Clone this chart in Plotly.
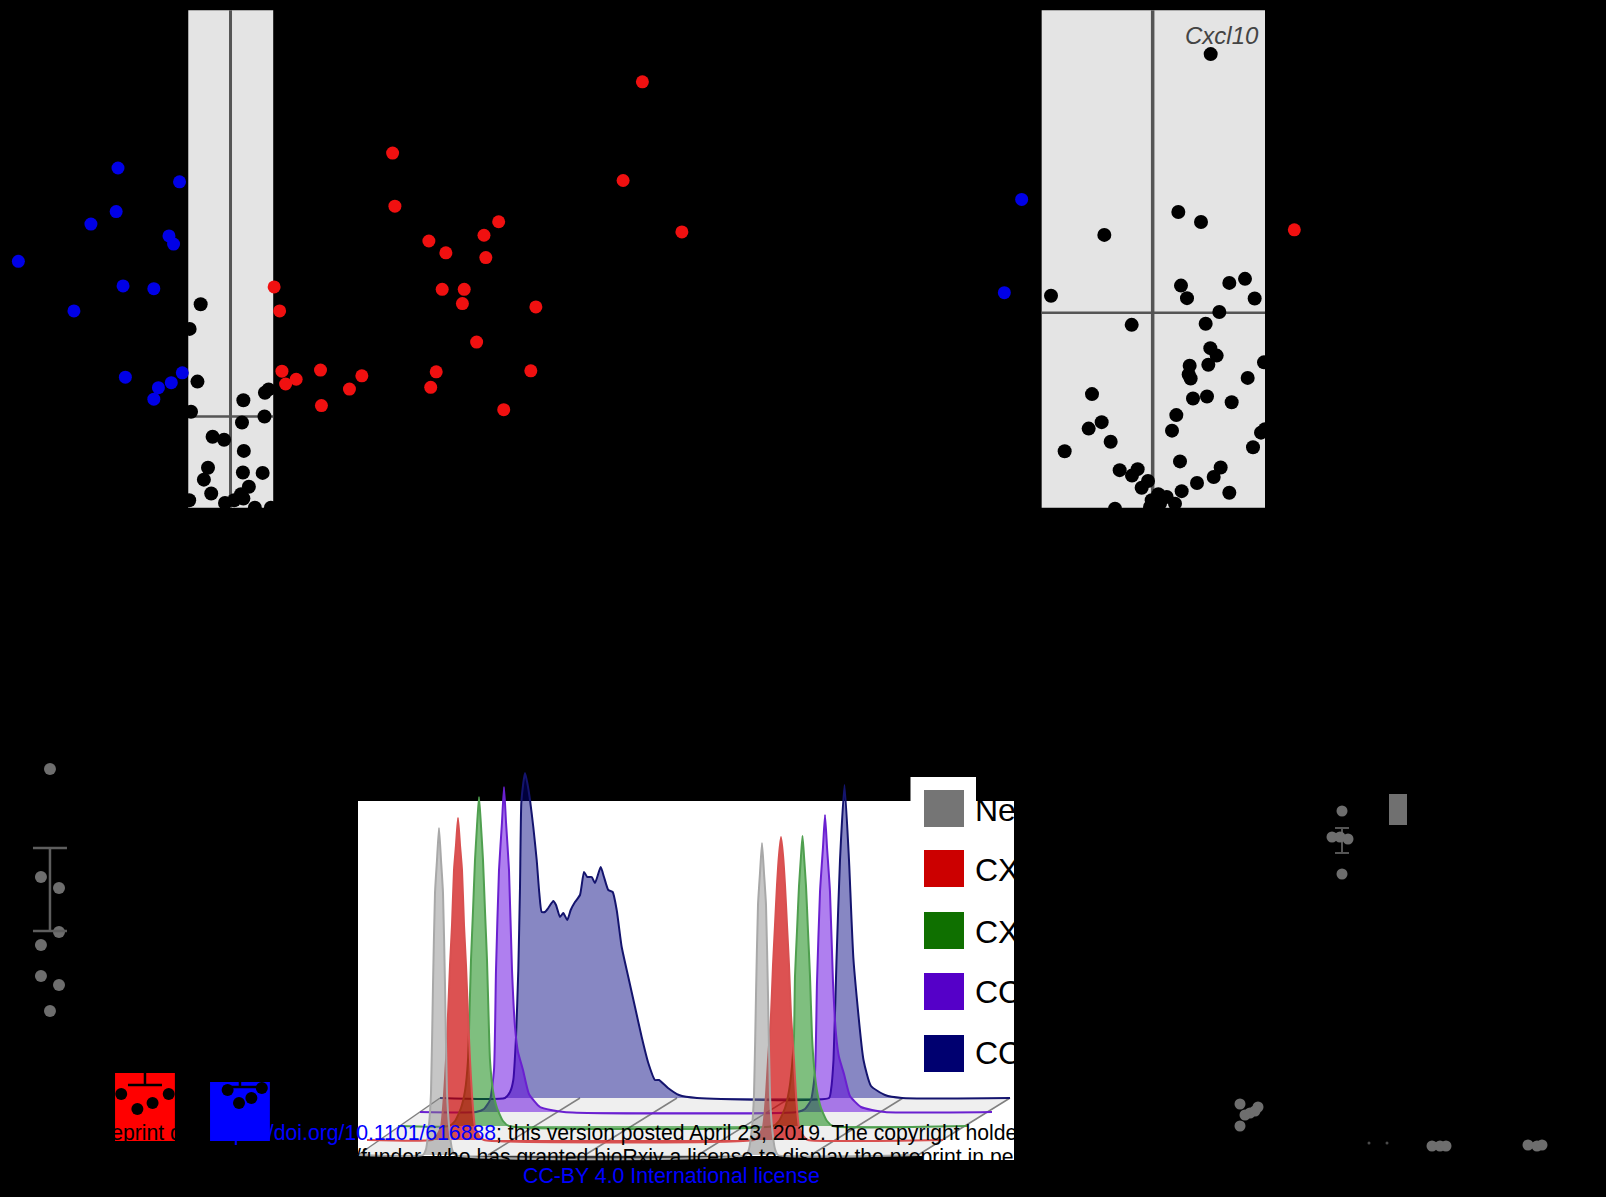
import plotly.graph_objects as go

# ---- top-left volcano (arbitrary plot units)
left_blue_x = [-2.45,-1.11,-2.49,-3.04,-1.34,-1.24,-4.62,-2.34,-1.67,-3.41,-1.05,-2.29,-1.29,-1.57,-1.67]
left_blue_y = [10.05,9.64,8.76,8.39,8.04,7.80,7.29,6.56,6.48,5.82,3.99,3.86,3.70,3.55,3.21]
left_red_x = [8.97,3.53,8.55,3.58,5.84,9.83,5.52,4.32,4.69,5.56,0.95,4.61,5.09,5.05,1.07,6.65,5.36,1.12,1.96,4.48,6.54,2.86,1.43,1.20,2.59,4.36,1.98,5.95]
left_red_y = [12.60,10.49,9.68,8.92,8.46,8.16,8.06,7.89,7.54,7.40,6.53,6.46,6.46,6.04,5.82,5.94,4.90,4.04,4.07,4.02,4.05,3.90,3.80,3.66,3.51,3.56,3.02,2.90]
left_ns_x = [-0.65,-0.89,-0.72,0.83,0.75,0.28,-0.86,0.74,0.25,-0.39,-0.14,0.29,-0.49,0.27,0.70,-0.58,0.40,-0.42,0.23,0.28,0.08,-0.12,-0.90,0.88,0.53]
left_ns_y = [6.02,5.29,3.73,3.50,3.40,3.18,2.84,2.70,2.52,2.10,2.01,1.68,1.18,1.04,1.03,0.83,0.62,0.42,0.40,0.27,0.22,0.14,0.22,0.0,0.0]
left_fc_cut = [-0.92, 0.93]
p_cut_left = 2.70
plot_top = 14.72

# ---- top-right volcano
right_blue_x = [-3.93,-4.45]
right_blue_y = [9.12,6.36]
right_red_x = [4.25]
right_red_y = [8.22]
right_ns_x = [1.74,0.77,1.45,-1.45,0.85,2.30,2.77,-3.05,1.03,3.06,2.00,-0.63,1.59,1.73,1.92,1.67,1.11,3.34,1.08,1.14,2.85,-1.82,1.21,1.63,2.37,0.71,-1.53,-1.92,0.58,3.25,3.37,-1.26,-2.64,3.01,0.82,-0.99,-0.45,-0.62,2.04,1.83,1.33,-0.14,-0.33,0.87,2.30,-1.13,0.17,-0.03,0.42,0.67,0.22,-0.08]
right_ns_y = [13.42,8.75,8.45,8.07,6.57,6.65,6.77,6.27,6.20,6.19,5.79,5.41,5.44,4.72,4.50,4.23,4.20,4.30,3.94,3.82,3.84,3.36,3.23,3.29,3.12,2.74,2.53,2.34,2.28,2.22,2.32,1.95,1.67,1.79,1.37,1.11,1.14,0.95,1.19,0.91,0.73,0.79,0.59,0.49,0.44,-0.03,0.40,0.22,0.32,0.12,0.12,0.02]
right_fc_cut = [-3.33, 3.37]
p_cut_right = 5.77
gene_label = "Cxcl10"

# ---- bottom-left bars and dots
ctrl_x = [0.0,-0.095,0.095,0.095,-0.095,-0.095,0.095,0.0]
ctrl_y = [37.2,26.4,25.3,20.9,19.6,16.5,15.6,13.0]
ctrl_mean = [25.15]
ctrl_err = [4.15]
bar_cats = [1, 2]
bar_vals = [6.8, 5.9]
bar_err = [1.2, 0.5]
bar_colors = ["#ff0000", "#0000ff"]
bar_dot_x = [0.75,1.25,0.92,1.08,1.87,2.23,2.12,1.99]
bar_dot_y = [4.7,4.7,3.2,3.8,5.1,5.3,4.3,3.8]

# ---- bottom-right dots
br_a_x = [1.42,1.32,1.40,1.48,1.42]
br_a_y = [33.9,31.3,31.3,31.1,27.6]
br_a_mean = [30.95]
br_a_err = [1.25]
br_bar_x = [1.98]
br_bar_base = [32.5]
br_bar_h = [3.1]
br_b_x = [0.40,0.58,0.50,0.55,0.45,0.40]
br_b_y = [4.6,4.3,3.7,3.9,3.5,2.4]
br_c_x = [2.32,2.40,2.46,3.28,3.37,3.42]
br_c_y = [0.4,0.4,0.4,0.5,0.4,0.5]
br_speck_x = [1.69,1.87]
br_speck_y = [0.7,0.7]

# ---- stacked histograms: channel, height above the layer's baseline
hist_names = ["Negative", "CXCL9", "CXCL10", "CCL19", "CCL21"]
hist_colors = ["#757575", "#cc0000", "#0f7000", "#5500c8", "#000070"]
grey_x = [18,83,86,89,91,93,95,97,99,101,103,105,107,109,112,115,406,409,412,414,416,418,420,422,424,426,428,430,432,435,438,578]
grey_h = [0,0,6,30,62,170,262,295,327,295,262,170,62,30,6,0,0,6,28,60,160,250,282,312,282,250,160,60,28,6,0,0]
red_x = [27,92,96,101,104,106,108,110,112,114,116,118,120,122,124,126,128,130,132,135,140,144,414,418,423,426,428,431,433,435,437,439,441,443,445,447,449,451,454,456,459,464,468,603]
red_h = [0,0,3,13,45,80,125,175,215,270,295,322,295,270,215,175,125,80,45,13,3,0,0,3,13,45,80,125,175,215,255,285,303,285,255,215,175,125,80,45,13,3,0,0]
green_x = [58,109,115,121,125,128,129,131,133,135,137,139,141,143,145,147,149,150,153,157,163,169,433,439,445,449,452,454,455,457,459,461,462.5,464,466,468,470,472,474,477,481,487,493,628]
green_h = [0,0,5,18,35,66,95,166,215,266,300,329,300,266,215,166,95,66,35,18,5,0,0,5,18,35,60,90,150,195,240,270,290,270,240,195,150,90,60,35,18,5,0,0]
purple_x = [80,136,144,150,154,156,159,162,164,166,169,172,175,178,183,189,200,224,457,465,471,475,477,480,483,485,487,490,493,496,499,504,510,521,545,652]
purple_h = [0,0,3,12,42,142,242,290,325,290,242,142,85,60,42,18,5,0,0,3,12,40,130,220,265,297,265,220,130,78,55,38,16,5,0,0]
navy_x = [100,165,170,173.3,176,178.3,180,181.3,183.3,185,187.3,190,193.3,196.7,199.3,201.7,205,208.3,213.3,216,220,223.3,227.3,230.7,235,240,244,247.3,251.7,255,260.7,264,268.3,272.7,276.7,281.7,288.3,295,301.7,308.3,315,319,328,339,357,489,491,493.5,496.5,500,504.5,509,513.5,523.5,531,545,562,670]
navy_h = [0,0,6,18,61,128,211,295,315,325,315,298,271,238,205,186,186,190,197,193,181,185,178,188,196,203,226,221,221,215,231,221,208,206,188,151,121,91,61,35,18,18,10,3,0,0,8,38,138,238,313,238,138,38,12,3,0,0]
floor_back_x = [100,240,337,450,563,670]
floor_front_x = [18,148,245,358,471,578]

W, H = 1606, 1197
def dom_x(a, b): return [a / W, b / W]
def dom_y(top, bottom): return [1 - bottom / H, 1 - top / H]
def plain(dom, rng, anchor):
    return dict(domain=dom, range=rng, visible=False, fixedrange=True, anchor=anchor)

fig = go.Figure()
def dots(x, y, color, size, ax, ay, opacity=1):
    fig.add_trace(go.Scatter(x=x, y=y, mode="markers", xaxis=ax, yaxis=ay, showlegend=False,
                             marker=dict(color=color, size=size, opacity=opacity, line=dict(width=0))))

# volcanoes
dots(left_ns_x, left_ns_y, "#000000", 14, "x", "y")
dots(left_blue_x, left_blue_y, "#0000e6", 13, "x", "y")
dots(left_red_x, left_red_y, "#f01010", 13, "x", "y")
dots(right_ns_x, right_ns_y, "#000000", 14, "x2", "y2")
dots(right_blue_x, right_blue_y, "#0000e6", 13, "x2", "y2")
dots(right_red_x, right_red_y, "#f01010", 13, "x2", "y2")

# bottom-left
fig.add_trace(go.Bar(x=bar_cats, y=bar_vals, width=0.63, xaxis="x3", yaxis="y3", showlegend=False,
                     marker=dict(color=bar_colors, line=dict(width=0)),
                     error_y=dict(type="data", array=bar_err, color="#000000", thickness=2.5, width=17)))
dots(bar_dot_x, bar_dot_y, "#000000", 12, "x3", "y3")
dots(ctrl_x, ctrl_y, "#6e6e6e", 12, "x3", "y3")
fig.add_trace(go.Scatter(x=[0], y=ctrl_mean, mode="markers", xaxis="x3", yaxis="y3", showlegend=False,
                         marker=dict(size=1, color="rgba(0,0,0,0)"),
                         error_y=dict(type="data", array=ctrl_err, color="#5e5e5e", thickness=2.5, width=17)))

# bottom-right
fig.add_trace(go.Bar(x=br_bar_x, y=br_bar_h, base=br_bar_base, width=0.18, xaxis="x4", yaxis="y4", showlegend=False,
                     marker=dict(color="#707070", line=dict(width=0))))
fig.add_trace(go.Scatter(x=[1.42], y=br_a_mean, mode="markers", xaxis="x4", yaxis="y4", showlegend=False,
                         marker=dict(size=1, color="rgba(0,0,0,0)"),
                         error_y=dict(type="data", array=br_a_err, color="#555555", thickness=2, width=7)))
dots(br_a_x, br_a_y, "#6e6e6e", 11, "x4", "y4")
dots(br_b_x, br_b_y, "#6e6e6e", 11, "x4", "y4")
dots(br_c_x, br_c_y, "#6e6e6e", 11, "x4", "y4")
dots(br_speck_x, br_speck_y, "#4a4a4a", 3, "x4", "y4")

# histograms, back layer first
layers = [
    (navy_x, navy_h, 99, "rgba(0,0,128,0.47)", "#14146e"),
    (purple_x, purple_h, 85, "rgba(96,0,224,0.5)", "#6a20d0"),
    (green_x, green_h, 71, "rgba(0,128,0,0.5)", "#4f9f4f"),
    (red_x, red_h, 57, "rgba(204,0,0,0.68)", "#d85050"),
    (grey_x, grey_h, 42, "rgba(128,128,128,0.45)", "#a8a8a8"),
]
floor_front = 42
floor_back = 99
floor_gx, floor_gy = [], []
for bx, fx in zip(floor_back_x, floor_front_x):
    floor_gx += [bx, fx, None]
    floor_gy += [floor_back, floor_front, None]
fig.add_trace(go.Scatter(x=[floor_back_x[0], floor_back_x[-1], floor_front_x[-1], floor_front_x[0], floor_back_x[0]],
                         y=[floor_back, floor_back, floor_front, floor_front, floor_back],
                         mode="lines", fill="toself", fillcolor="#efefef", line=dict(width=0),
                         xaxis="x5", yaxis="y5", showlegend=False))
fig.add_trace(go.Scatter(x=floor_gx, y=floor_gy, mode="lines", line=dict(color="#808080", width=1.5),
                         xaxis="x5", yaxis="y5", showlegend=False))
for xs, hs, base, fc, lc in layers:
    fig.add_trace(go.Scatter(x=xs, y=[base + h for h in hs], mode="lines", fill="toself",
                             fillcolor=fc, line=dict(color=lc, width=2, shape="spline", smoothing=0.5),
                             xaxis="x5", yaxis="y5", showlegend=False))

rule = "#555555"
shapes = [
    dict(type="rect", xref="x", yref="y", x0=left_fc_cut[0], x1=left_fc_cut[1], y0=0, y1=plot_top, fillcolor="#e4e4e4", line=dict(width=0), layer="below"),
    dict(type="line", xref="x", yref="y", x0=0, x1=0, y0=0, y1=plot_top, line=dict(color=rule, width=3), layer="below"),
    dict(type="line", xref="x", yref="y", x0=left_fc_cut[0], x1=left_fc_cut[1], y0=p_cut_left, y1=p_cut_left, line=dict(color=rule, width=2.5), layer="below"),
    dict(type="rect", xref="x2", yref="y2", x0=right_fc_cut[0], x1=right_fc_cut[1], y0=0, y1=plot_top, fillcolor="#e4e4e4", line=dict(width=0), layer="below"),
    dict(type="line", xref="x2", yref="y2", x0=0, x1=0, y0=0, y1=plot_top, line=dict(color=rule, width=3.5), layer="below"),
    dict(type="line", xref="x2", yref="y2", x0=right_fc_cut[0], x1=right_fc_cut[1], y0=p_cut_right, y1=p_cut_right, line=dict(color=rule, width=2.5), layer="below"),
    # white histogram panel, its lower right step, and the raised legend box
    dict(type="rect", xref="x5", yref="y5", x0=18, x1=674, y0=41, y1=396, fillcolor="#ffffff", line=dict(width=0), layer="below"),
    dict(type="rect", xref="x5", yref="y5", x0=583, x1=674, y0=37, y1=42, fillcolor="#ffffff", line=dict(width=0), layer="below"),
    dict(type="rect", xref="x5", yref="y5", x0=570.5, x1=636, y0=395, y1=420, fillcolor="#ffffff", line=dict(width=0), layer="below"),
]

swatch_bottoms = [370, 310, 248, 187, 125]
text_y = [387, 327, 265, 205, 144]
annots = []
for name, color, sb, ty in zip(hist_names, hist_colors, swatch_bottoms, text_y):
    shapes.append(dict(type="rect", xref="x5", yref="y5", x0=584, x1=624, y0=sb, y1=sb + 37, fillcolor=color, line=dict(width=0)))
    annots.append(dict(xref="x5", yref="y5", x=633, y=ty, text=name, showarrow=False, xanchor="left", yanchor="middle",
                       font=dict(family="Liberation Sans", size=32, color="#000000")))

def text_at(px, py, text, size, color, anchor="left", italic=False):
    t = f"<i>{text}</i>" if italic else text
    annots.append(dict(xref="paper", yref="paper", x=px / W, y=1 - py / H, text=t, showarrow=False,
                       xanchor=anchor, yanchor="middle", font=dict(family="Liberation Sans", size=size, color=color)))

text_at(1261, 35.5, gene_label, 24, "#444444", anchor="right", italic=True)
text_at(14.5, 1133, 'bioRxiv preprint doi: <span style="color:#0000ff">https://doi.org/10.1101/616888</span>; this version posted April 23, 2019. The copyright holder for this preprint', 21.2, "#000000")
text_at(293, 1157, "author/funder, who has granted bioRxiv a license to display the preprint in perpetuity", 21.2, "#000000")
text_at(521, 1176, "CC-BY 4.0 International license", 21.3, "#0000ff")

fig.update_layout(
    width=W, height=H, margin=dict(l=0, r=0, t=0, b=0), autosize=False,
    paper_bgcolor="#000000", plot_bgcolor="rgba(0,0,0,0)", showlegend=False, hovermode=False,
    xaxis=plain(dom_x(0, 720), [-5.02, 10.66], "y"),
    yaxis=plain(dom_y(0, 530), [-0.66, 15.02], "x"),
    xaxis2=plain(dom_x(960, 1360), [-5.78, 6.22], "y2"),
    yaxis2=plain(dom_y(0, 530), [-0.66, 15.02], "x2"),
    xaxis3=plain(dom_x(0, 340), [-0.526, 3.053], "y3"),
    yaxis3=plain(dom_y(750, 1197), [-5.6, 39.1], "x3"),
    xaxis4=plain(dom_x(1200, 1606), [0, 4.06], "y4"),
    yaxis4=plain(dom_y(750, 1197), [-4.7, 40], "x4"),
    xaxis5=plain(dom_x(340, 1040), [0, 700], "y5"),
    yaxis5=plain(dom_y(760, 1197), [0, 437], "x5"),
    shapes=shapes, annotations=annots,
)
fig.write_html("out.html", config=dict(displayModeBar=False),
               post_script="document.body.style.margin='0';document.body.style.background='#000';")
